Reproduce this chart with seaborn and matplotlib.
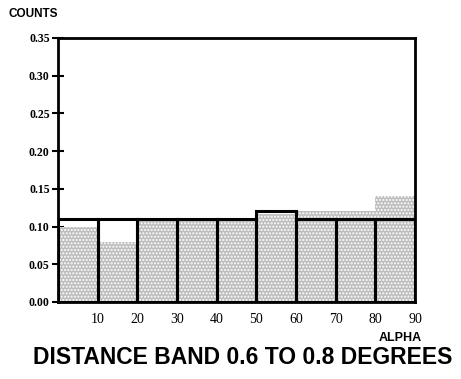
import matplotlib
matplotlib.use("Agg")
import matplotlib.pyplot as plt
import seaborn as sns
import numpy as np

# Data
bin_edges = [0, 10, 20, 30, 40, 50, 60, 70, 80, 90]
bin_centers = [5, 15, 25, 35, 45, 55, 65, 75, 85]
outline_counts = [0.11, 0.11, 0.11, 0.11, 0.11, 0.12, 0.11, 0.11, 0.11]
stipple_counts = [0.10, 0.08, 0.107, 0.107, 0.107, 0.117, 0.12, 0.12, 0.14]
x_tick_values = [10, 20, 30, 40, 50, 60, 70, 80, 90]
y_tick_values = [0.00, 0.05, 0.10, 0.15, 0.20, 0.25, 0.30, 0.35]
y_tick_labels = ["0.00", "0.05", "0.10", "0.15", "0.20", "0.25", "0.30", "0.35"]

sns.set_theme(style="white")
plt.rcParams["hatch.color"] = "#000000"
plt.rcParams["hatch.linewidth"] = 1.0

fig = plt.figure(figsize=(4.61, 3.79), dpi=100)
ax = fig.add_axes([58 / 461, 1 - 302 / 379, (415 - 58) / 461, (302 - 38) / 379])

# stippled series
sns.histplot(x=bin_centers, weights=stipple_counts, bins=bin_edges, ax=ax,
             stat="count", element="bars", fill=True, color="#bdbdbd",
             alpha=1.0, linewidth=0, hatch=".....", zorder=1)
# outlined series
sns.histplot(x=bin_centers, weights=outline_counts, bins=bin_edges, ax=ax,
             stat="count", element="bars", fill=False, color="black",
             linewidth=2.2, zorder=3)

ax.set_xlim(0, 90)
ax.set_ylim(0, 0.35)
ax.set_xlabel("")
ax.set_ylabel("")

ax.set_xticks(x_tick_values)
ax.set_xticklabels([str(v) for v in x_tick_values], family="Liberation Serif",
                   fontsize=10)
ax.set_yticks(y_tick_values)
ax.set_yticklabels(y_tick_labels, family="Liberation Serif", fontsize=8.5,
                   fontweight="bold")
ax.tick_params(axis="x", length=0, pad=8, colors="black")
ax.tick_params(axis="y", direction="inout", length=8, width=1.5, pad=2,
               colors="black", left=True)

for side in ["left", "right", "top", "bottom"]:
    ax.spines[side].set_visible(True)
    ax.spines[side].set_color("black")
    ax.spines[side].set_linewidth(2)

fig.text(8 / 461, 1 - 14 / 379, "COUNTS", family="Liberation Sans",
         fontweight="bold", fontsize=8.5, ha="left", va="center", color="black")
fig.text(400 / 461, 1 - 338 / 379, "ALPHA", family="Liberation Sans",
         fontweight="bold", fontsize=9, ha="center", va="center", color="black")
fig.text(243 / 461, 1 - 358 / 379, "DISTANCE BAND 0.6 TO 0.8 DEGREES",
         family="Liberation Sans", fontweight="bold", fontsize=16.5,
         ha="center", va="center", color="black")

fig.savefig("out.png", dpi=100, facecolor="white")
